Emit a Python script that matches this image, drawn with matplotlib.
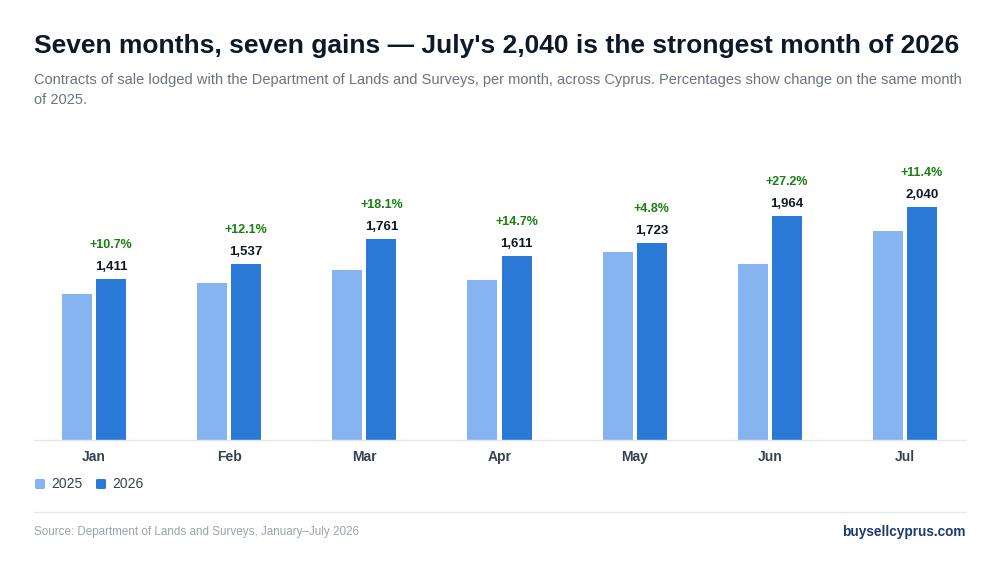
import matplotlib
matplotlib.use("Agg")
import matplotlib.pyplot as plt
import numpy as np
from matplotlib.patches import FancyBboxPatch

months = ["Jan", "Feb", "Mar", "Apr", "May", "Jun", "Jul"]
values_2025 = [1275, 1371, 1491, 1405, 1644, 1544, 1831]
values_2026 = [1411, 1537, 1761, 1611, 1723, 1964, 2040]
pct_change = ["+10.7%", "+12.1%", "+18.1%", "+14.7%", "+4.8%", "+27.2%", "+11.4%"]
series_labels = ["2025", "2026"]

plt.rcParams['font.family'] = ['Liberation Sans', 'DejaVu Sans']

W, H = 1000, 561
fig = plt.figure(figsize=(W / 100, H / 100), dpi=100)
fig.patch.set_facecolor("white")

def fx(px):
    return px / W

def fy(py):
    return 1 - py / H

c25 = "#86b4f0"
c26 = "#2b79d6"

ax_top, ax_bot = 130, 440
ax = fig.add_axes([fx(34), fy(ax_bot), fx(966) - fx(34), (ax_bot - ax_top) / H])
ax.set_facecolor("white")

x = np.arange(len(months))
bw = 0.222
off = 0.126
ax.bar(x - off, values_2025, bw, color=c25, zorder=2)
ax.bar(x + off, values_2026, bw, color=c26, zorder=2)

ymax = 2040 * (ax_bot - ax_top) / 233
ax.set_ylim(0, ymax)
ax.set_xlim(-0.444, 6.451)

for i in range(len(months)):
    v = values_2026[i]
    ax.annotate(f"{v:,}", (x[i] + off, v), xytext=(0, 6), textcoords="offset pixels",
                ha="center", va="bottom", fontsize=9.5, fontweight="bold", color="#111827")
    ax.annotate(pct_change[i], (x[i] + off, v), xytext=(0, 28), textcoords="offset pixels",
                ha="center", va="bottom", fontsize=9, fontweight="bold", color="#17800f")

for s in ["top", "right", "left"]:
    ax.spines[s].set_visible(False)
ax.spines["bottom"].set_color("#e5e7eb")
ax.spines["bottom"].set_linewidth(1)
ax.set_yticks([])
ax.set_xticks(x)
ax.set_xticklabels(months, fontsize=10, fontweight="bold", color="#374151")
ax.tick_params(axis="x", length=0, pad=7)

# Title and subtitle
fig.text(fx(34), fy(46), "Seven months, seven gains \u2014 July's 2,040 is the strongest month of 2026",
         fontsize=19, fontweight="bold", color="#0f172a", va="center", ha="left")
fig.text(fx(34), fy(80), "Contracts of sale lodged with the Department of Lands and Surveys, per month, across Cyprus. Percentages show change on the same month",
         fontsize=10.55, color="#6b7280", va="center", ha="left")
fig.text(fx(34), fy(100), "of 2025.", fontsize=10.55, color="#6b7280", va="center", ha="left")

# Legend
for i, (lab, col) in enumerate(zip(series_labels, [c25, c26])):
    x0 = 34 + i * 61
    sq = FancyBboxPatch((fx(x0 + 1), fy(489)), fx(10), 10 / H,
                        boxstyle="round,pad=0,rounding_size=0.002", transform=fig.transFigure,
                        facecolor=col, edgecolor="none")
    fig.patches.append(sq)
    fig.text(fx(x0 + 17), fy(484), lab, fontsize=10, color="#374151", va="center", ha="left")

# Footer
fig.add_artist(plt.Line2D([fx(34), fx(966)], [fy(512), fy(512)], color="#e5e7eb", lw=1,
                          transform=fig.transFigure))
fig.text(fx(34), fy(532), "Source: Department of Lands and Surveys, January\u2013July 2026",
         fontsize=8.4, color="#9ca3af", va="center", ha="left")
fig.text(fx(966), fy(532), "buysellcyprus.com", fontsize=9.8, fontweight="bold",
         color="#1e3a6e", va="center", ha="right")

fig.savefig("out.png", dpi=100, facecolor="white")
